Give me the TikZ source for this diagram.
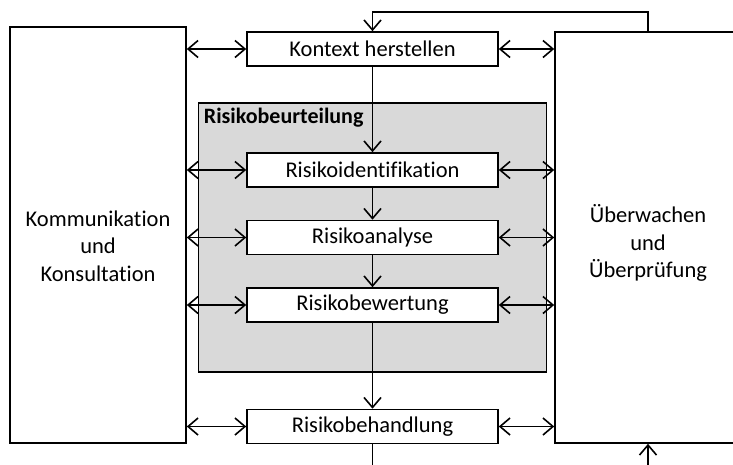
\documentclass[tikz,border=0pt]{standalone}
\usepackage{fontspec}
\setmainfont{Carlito}[Ligatures=NoCommon]
\usetikzlibrary{arrows.meta,positioning}
\definecolor{beurtgray}{RGB}{217,217,217}
\tikzset{
     task node/.style={draw, fill=white, line width=1.6pt, minimum width=251pt, minimum height=34pt, inner sep=0pt},
     side node/.style={draw, fill=white, line width=1.6pt, inner sep=0pt},
     text node/.style={align=center, inner sep=0pt},
      flowedge/.style  = {black, line width=1.6pt, ->, >={Straight Barb[length=10pt,width=17pt]}},
      talkedge/.style  = {black, line width=1.6pt, <->, >={Straight Barb[length=10pt,width=17pt]}},
      plainedge/.style = {black, line width=1.6pt},
    }

\begin{document}
\begin{tikzpicture}[x=1pt,y=-1pt,on grid,node distance=67.5pt,font=\fontsize{22.5}{27.5}\selectfont]
        \useasboundingbox (0,0) rectangle (733,464);
        \clip (0,0) rectangle (733,464);

        \node [draw, fill=beurtgray, line width=1.6pt, minimum width=348pt, minimum height=269pt] (beurt) at (372.5,237.5) {};
        \node [anchor=base west, inner sep=0pt, font=\fontsize{22}{27.5}\selectfont\bfseries] (beurtlabel) at ([xshift=6pt,yshift=-21pt]beurt.north west) {Risikobeurteilung};

        \node [side node, minimum width=176pt, minimum height=416pt] (komm) at (98,235) {};
        \node [side node, minimum width=186pt, minimum height=411pt] (ueberw) at (648,237.5) {};
        \node [text node] (kommtext) at (98,246) {Kommunikation\\und\\Konsultation};
        \node [text node] (ueberwtext) at (648,243) {Überwachen\\und\\Überprüfung};

        \node [task node] (kontext) at (372.5,49)       {Kontext herstellen};
        \node [task node] (ident)   [below=121pt of kontext] {Risikoidentifikation};
        \node [task node] (analyse) [below=of ident]     {Risikoanalyse};
        \node [task node] (bewert)  [below=of analyse]   {Risikobewertung};
        \node [task node] (behandl) [below=121.5pt of bewert] {Risikobehandlung};

        \coordinate (looptop) at (372.5,12);
        \coordinate (bottomleft) at (372.5,470);
        \coordinate (bottomright) at (648,470);

        \path[flowedge]
        (kontext) edge (ident)
        (ident) edge (analyse)
        (analyse) edge (bewert)
        (bewert) edge (behandl)
        (bottomright) edge (ueberw);
        \draw[plainedge] (behandl) -- (bottomleft);
        \draw[flowedge] (ueberw.north) |- (looptop) -- (kontext);

        \path[talkedge]
        (komm.east |- kontext.west) edge (kontext.west)
        (komm.east |- ident.west) edge (ident.west)
        (komm.east |- analyse.west) edge (analyse.west)
        (komm.east |- bewert.west) edge (bewert.west)
        (komm.east |- behandl.west) edge (behandl.west)
        (kontext.east) edge (ueberw.west |- kontext.east)
        (ident.east) edge (ueberw.west |- ident.east)
        (analyse.east) edge (ueberw.west |- analyse.east)
        (bewert.east) edge (ueberw.west |- bewert.east)
        (behandl.east) edge (ueberw.west |- behandl.east);
    \end{tikzpicture}
\end{document}
